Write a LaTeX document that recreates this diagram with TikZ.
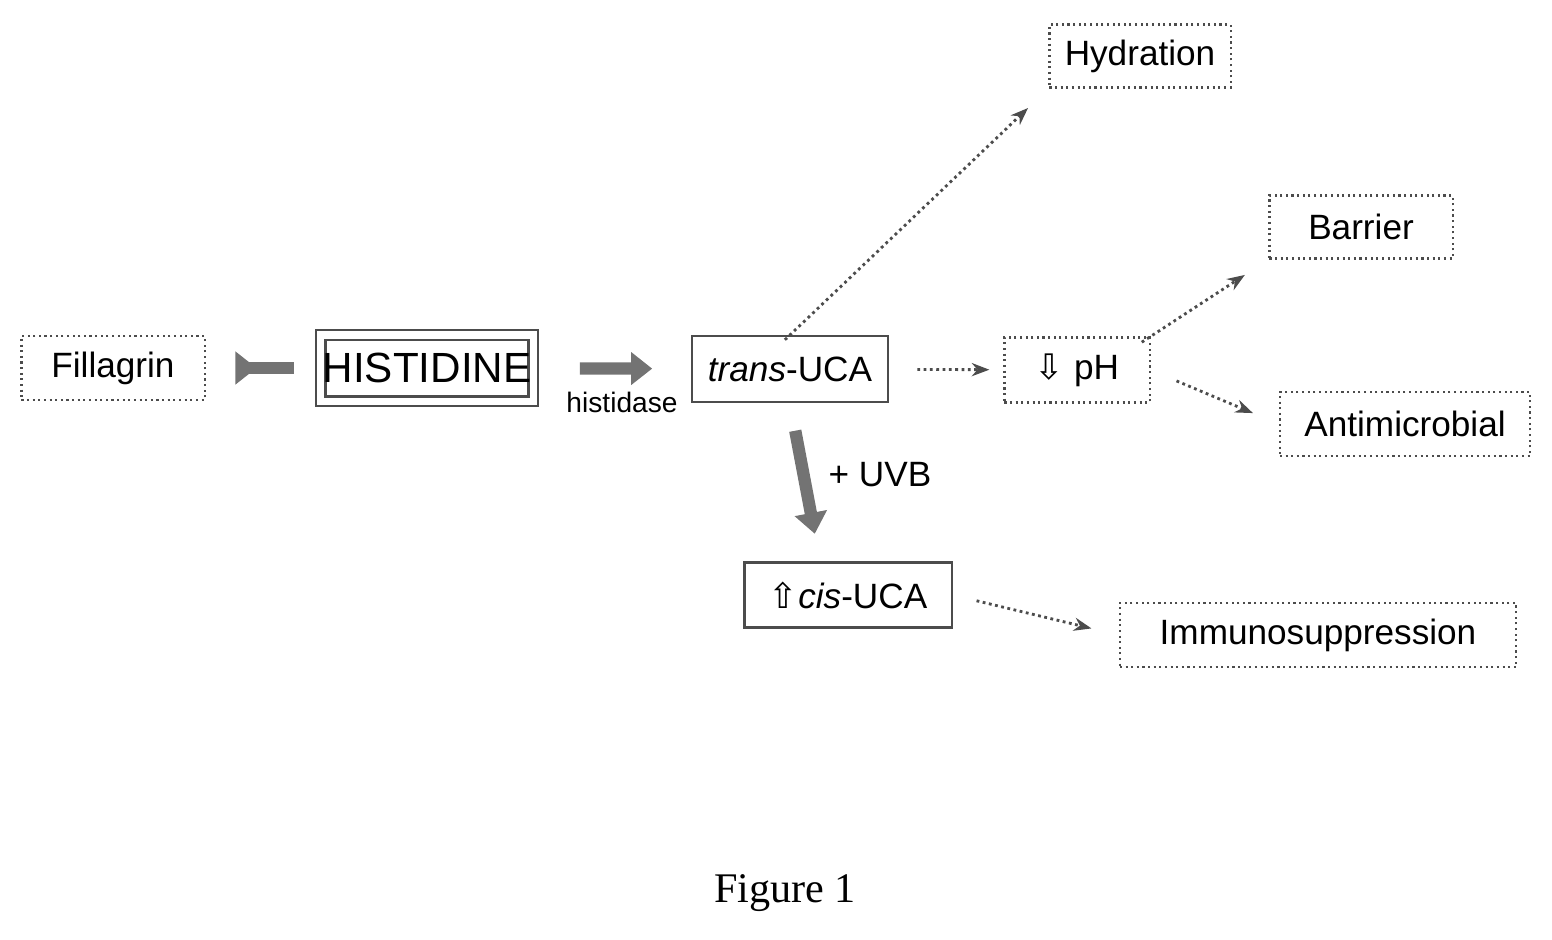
\documentclass[tikz,border=0pt]{standalone}
\usepackage{fontspec}
\setmainfont{Liberation Sans}
\newfontfamily\symfont{DejaVu Sans}
\newfontfamily\capfont{Liberation Serif}
\usetikzlibrary{arrows.meta,positioning}

\tikzset{
  box/.style={draw=black!70, densely dotted, line width=0.6pt, inner sep=0pt, font=\fontsize{10}{12}\selectfont},
  bigarrow/.style={draw=black!55, line width=3.5pt, -{Triangle[length=6pt,width=9pt]}},
  thinarrow/.style={draw=black!70, densely dotted, line width=0.8pt, -{Stealth[length=5pt]}}
}

\begin{document}
\begin{tikzpicture}[x=0.01cm,y=-0.01cm]
  \useasboundingbox (0,0) rectangle (1552,939);
  \node (fillagrin) at (113,368) [box, minimum width=1.83cm, minimum height=0.64cm] {Fillagrin};
  \node (histidine) at (427,368) [box, solid, double, double distance=2pt, draw=black!70, minimum width=2.12cm, minimum height=0.66cm] {\fontsize{12}{14}\selectfont HISTIDINE};
  \node (trans) at (790,369) [box, solid, minimum width=1.96cm, minimum height=0.66cm] {\textit{trans}-UCA};
  \node (ph) at (1077,370) [box, minimum width=1.45cm, minimum height=0.65cm] {{\symfont ⇩} pH};
  \node (hydration) at (1140,56) [box, minimum width=1.81cm, minimum height=0.63cm] {Hydration};
  \node (barrier) at (1361,227) [box, minimum width=1.83cm, minimum height=0.63cm] {Barrier};
  \node (antimicrobial) at (1405,424) [box, minimum width=2.5cm, minimum height=0.64cm] {Antimicrobial};
  \node (cis) at (848,595) [box, solid, minimum width=2.07cm, minimum height=0.65cm] {{\symfont ⇧}\textit{cis}-UCA};
  \node (immuno) at (1318,635) [box, minimum width=3.96cm, minimum height=0.64cm] {Immunosuppression};

  \node (histidase) at (622,402) {\fontsize{8}{10}\selectfont histidase};
  \node (uvb) at (880,475) {\fontsize{10}{12}\selectfont + UVB};
  \node (caption) at (785,893) {\capfont\fontsize{12}{14}\selectfont Figure 1};

  \draw [bigarrow, shorten <=25pt, shorten >=18pt] (fillagrin) -- (histidine);
  \draw [bigarrow, shorten <=13pt, shorten >=11pt] (histidine) -- (trans);
  \draw [bigarrow, shorten <=8pt, shorten >=8pt] (trans.south) ++(0,0) -- (cis.north -| 820,0);
  \draw [thinarrow, shorten <=8pt, shorten >=4pt] (trans) -- (ph);
  \draw [thinarrow, shorten <=-2pt, shorten >=8pt] (trans.north) -- (hydration.south west);
  \draw [thinarrow, shorten <=-3pt, shorten >=8pt] (ph.north east) -- (barrier.south west);
  \draw [thinarrow, shorten <=8pt, shorten >=8pt] (ph.east) -- (antimicrobial.west);
  \draw [thinarrow, shorten <=7pt, shorten >=8pt] (cis.east) -- (immuno.west);
\end{tikzpicture}
\end{document}
